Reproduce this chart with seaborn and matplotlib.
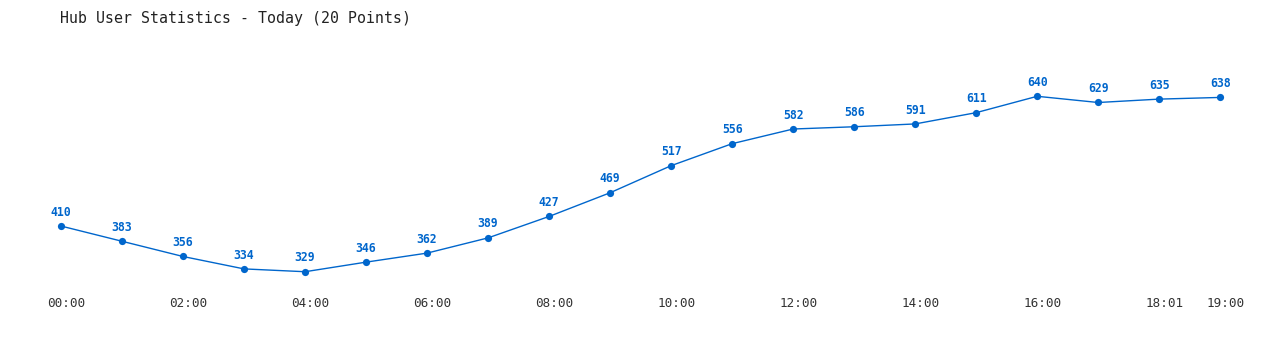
import matplotlib
matplotlib.use("Agg")
import matplotlib.pyplot as plt
import matplotlib.transforms as mtransforms
import seaborn as sns
import pandas as pd

title = "Hub User Statistics - Today (20 Points)"
times = ["00:00", "01:00", "02:00", "03:00", "04:00", "05:00", "06:00", "07:00",
         "08:00", "09:00", "10:00", "11:00", "12:00", "13:00", "14:00", "15:00",
         "16:00", "17:00", "18:01", "19:00"]
users = [410, 383, 356, 334, 329, 346, 362, 389, 427, 469, 517, 556, 582, 586,
         591, 611, 640, 629, 635, 638]
tick_idx = [0, 2, 4, 6, 8, 10, 12, 14, 16, 18, 19]

sns.set_style("white")
plt.rcParams['font.family'] = ['DejaVu Sans Mono', 'DejaVu Sans']

df = pd.DataFrame({"idx": list(range(len(users))), "time": times, "users": users})

W, H = 1280, 350
fig = plt.figure(figsize=(W / 100, H / 100), dpi=100)
ax = fig.add_axes([0, 60 / H, 1, 250 / H])
blue = "#0066cc"
sns.lineplot(data=df, x="idx", y="users", ax=ax, color=blue, linewidth=1.0,
             marker="o", markersize=5.2, markeredgewidth=0, markerfacecolor=blue)

for i, v in zip(df["idx"], df["users"]):
    ax.annotate(str(v), (i, v), xytext=(0, 10), textcoords="offset points",
                ha="center", va="center", fontsize=8.3, fontweight="bold", color=blue)

ax.set_xlim(-1, 19.98)
ax.set_ylim(296.6, 739.8)
ax.set_xticks(tick_idx)
ax.set_xticklabels([times[i] for i in tick_idx], fontsize=9.1, color="#333333")
ax.tick_params(axis="x", length=0, pad=5)
offset = mtransforms.ScaledTranslation(5 / 100, 0, fig.dpi_scale_trans)
for lbl in ax.get_xticklabels():
    lbl.set_transform(lbl.get_transform() + offset)
ax.set_yticks([])
ax.set_xlabel("")
ax.set_ylabel("")
for s in ax.spines.values():
    s.set_visible(False)

fig.text(60 / W, 1 - 18 / H, title, ha="left", va="center", fontsize=10.7, color="#222222")

fig.savefig("out.png", dpi=100)
